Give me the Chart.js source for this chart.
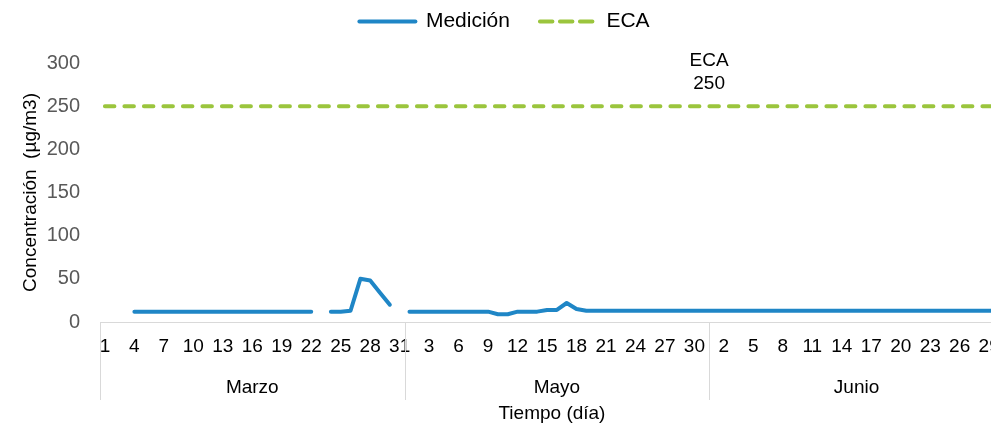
<!DOCTYPE html>
<html>
<head>
<meta charset="utf-8">
<script src="https://cdn.jsdelivr.net/npm/chart.js@4.4.1/dist/chart.umd.min.js"></script>
<style>
  html, body { margin: 0; padding: 0; background: #fff; width: 991px; height: 427px; overflow: hidden; }
  canvas { display: block; }
</style>
</head>
<body>
<canvas id="grafico" width="1012" height="427" style="width:1012px;height:427px"></canvas>
<script>
var meses = ['Marzo', 'Mayo', 'Junio'];
var diasPorMes = [31, 31, 30];

// Medición (µg/m3), un valor por día; null = sin dato
var medicion = [
    // Marzo
    null, null, null, 12, 12, 12, 12, 12, 12, 12, 12, 12, 12, 12, 12, 12,
    12, 12, 12, 12, 12, 12, null, 12, 12, 13, 50, 48, 34, 20, null,
    // Mayo
    12, 12, 12, 12, 12, 12, 12, 12, 12, 9, 9, 12, 12, 12, 14, 14,
    22, 15, 13, 13, 13, 13, 13, 13, 13, 13, 13, 13, 13, 13, 13,
    // Junio
    13, 13, 13, 13, 13, 13, 13, 13, 13, 13, 13, 13, 13, 13, 13,
    13, 13, 13, 13, 13, 13, 13, 13, 13, 13, 13, 13, 13, 13, 13
];

// Estándar de calidad ambiental
var eca = [
    250, 250, 250, 250, 250, 250, 250, 250, 250, 250, 250, 250, 250, 250, 250, 250,
    250, 250, 250, 250, 250, 250, 250, 250, 250, 250, 250, 250, 250, 250, 250,
    250, 250, 250, 250, 250, 250, 250, 250, 250, 250, 250, 250, 250, 250, 250, 250,
    250, 250, 250, 250, 250, 250, 250, 250, 250, 250, 250, 250, 250, 250, 250,
    250, 250, 250, 250, 250, 250, 250, 250, 250, 250, 250, 250, 250, 250, 250,
    250, 250, 250, 250, 250, 250, 250, 250, 250, 250, 250, 250, 250, 250, 250
];
var ecaIndice = 61;

var fuente = '"Liberation Sans", Arial, sans-serif';

var dias = [];
diasPorMes.forEach(function(n) {
    for (var d = 1; d <= n; d++) dias.push(String(d));
});

var etiquetasMes = {
    id: 'etiquetasMes',
    beforeLayout: function(chart) {
        // deja espacio entre la leyenda y el área del gráfico
        var lg = chart.legend;
        if (lg && !lg.ajustado) {
            var fit = lg.fit;
            lg.fit = function() { fit.call(this); this.height += 21; };
            lg.ajustado = true;
        }
    },
    afterDraw: function(chart) {
        var ctx = chart.ctx;
        var x = chart.scales.x;
        var w = (x.right - x.left) / dias.length;
        var inicio = 0;
        ctx.save();
        ctx.strokeStyle = '#d9d9d9';
        ctx.lineWidth = 1;
        ctx.font = '19px ' + fuente;
        ctx.fillStyle = '#000';
        ctx.textAlign = 'center';
        ctx.textBaseline = 'middle';
        for (var i = 0; i <= meses.length; i++) {
            var x0 = x.getPixelForValue(inicio) - w / 2;
            if (i == meses.length) x0 = x.right;
            ctx.beginPath();
            ctx.moveTo(Math.round(x0) + 0.5, x.top);
            ctx.lineTo(Math.round(x0) + 0.5, x.top + 78);
            ctx.stroke();
            if (i < meses.length) {
                ctx.fillText(meses[i], x0 + diasPorMes[i] * w / 2, x.top + 66);
                inicio += diasPorMes[i];
            }
        }
        ctx.restore();
    },
    afterDatasetsDraw: function(chart) {
        var ctx = chart.ctx;
        var pts = chart.getDatasetMeta(1).data;
        var px = (pts[ecaIndice].x + pts[ecaIndice + 1].x) / 2;
        var py = pts[ecaIndice].y;
        ctx.save();
        ctx.font = '19px ' + fuente;
        ctx.fillStyle = '#000';
        ctx.textAlign = 'center';
        ctx.textBaseline = 'middle';
        ctx.fillText('ECA', px, py - 45);
        ctx.fillText(String(eca[ecaIndice]), px, py - 22);
        ctx.restore();
    }
};

var ctx = document.getElementById('grafico').getContext('2d');
var grafico = new Chart(ctx, {
    type: 'line',
    data: {
        labels: dias,
        datasets: [{
            label: 'Medición',
            data: medicion,
            borderColor: '#1f86c6',
            backgroundColor: '#1f86c6',
            borderWidth: 4,
            borderCapStyle: 'round',
            borderJoinStyle: 'round',
            pointRadius: 0,
            tension: 0,
            spanGaps: false
        }, {
            label: 'ECA',
            data: eca,
            borderColor: '#9bc53d',
            backgroundColor: '#9bc53d',
            borderWidth: 4,
            borderDash: [9.5, 10],
            borderCapStyle: 'round',
            pointRadius: 0,
            tension: 0
        }]
    },
    options: {
        responsive: false,
        animation: false,
        layout: { padding: { top: -19, right: 3, bottom: 0, left: 0 } },
        plugins: {
            legend: {
                position: 'top',
                labels: {
                    usePointStyle: true,
                    pointStyle: 'line',
                    pointStyleWidth: 56,
                    color: '#000',
                    padding: 30,
                    font: { size: 21, family: fuente },
                    generateLabels: function(chart) {
                        var items = Chart.defaults.plugins.legend.labels.generateLabels(chart);
                        items.forEach(function(it) {
                            var ds = chart.data.datasets[it.datasetIndex];
                            it.strokeStyle = ds.borderColor;
                            it.lineWidth = 4;
                            it.lineCap = 'round';
                            it.lineDash = ds.borderDash ? [12.5, 7.5] : [];
                        });
                        return items;
                    }
                }
            },
            tooltip: { enabled: false }
        },
        scales: {
            x: {
                offset: true,
                grid: { display: false, drawTicks: false },
                border: { display: true, color: '#d9d9d9', width: 1 },
                ticks: {
                    autoSkip: false,
                    maxRotation: 0,
                    minRotation: 0,
                    padding: 13,
                    color: '#000',
                    font: { size: 19, family: fuente },
                    callback: function(v, i) { return i % 3 == 0 ? dias[i] : ''; }
                },
                title: {
                    display: true,
                    text: 'Tiempo (día)',
                    color: '#000',
                    font: { size: 19, family: fuente },
                    padding: { top: 0, bottom: 2 }
                },
                afterFit: function(s) { s.height = 105; }
            },
            y: {
                min: 0,
                max: 300,
                grid: { display: false, drawTicks: false },
                border: { display: false },
                ticks: {
                    stepSize: 50,
                    padding: 20,
                    color: '#595959',
                    font: { size: 20, family: fuente }
                },
                title: {
                    display: true,
                    text: 'Concentración  (µg/m3)',
                    color: '#000',
                    font: { size: 19, family: fuente },
                    padding: { top: 19, bottom: 0 }
                },
                afterFit: function(s) { s.width = 100; }
            }
        }
    },
    plugins: [etiquetasMes]
});
</script>
</body>
</html>
